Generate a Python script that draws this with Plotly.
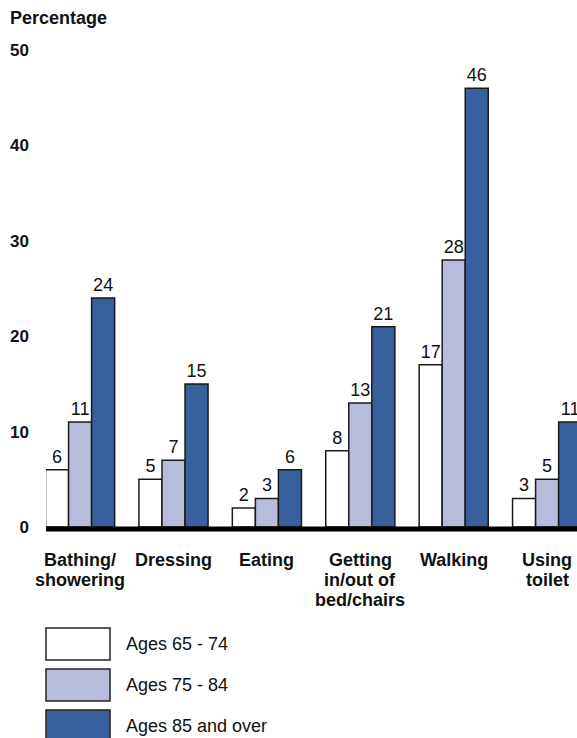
import plotly.graph_objects as go

# Share of older adults reporting difficulty, by activity and age group
activities = ["Bathing/<br>showering", "Dressing", "Eating",
              "Getting<br>in/out of<br>bed/chairs", "Walking", "Using<br>toilet"]
ages_65_74 = [6, 5, 2, 8, 17, 3]
ages_75_84 = [11, 7, 3, 13, 28, 5]
ages_85_up = [24, 15, 6, 21, 46, 11]
series_names = ["Ages 65 - 74", "Ages 75 - 84", "Ages 85 and over"]
y_ticks = [0, 10, 20, 30, 40, 50]

colors = ["#ffffff", "#b8bcdc", "#37609c"]
FONT = "Liberation Sans, Arial, sans-serif"

W, H = 577, 738
ML, MR, MT, MB = 46, 0, 50, 211
PW, PH = W - ML - MR, H - MT - MB


def px_x(x):
    return (x - ML) / PW


def px_y(y):
    return (H - MB - y) / PH


fig = go.Figure()
for name, vals, col in zip(series_names, [ages_65_74, ages_75_84, ages_85_up], colors):
    fig.add_trace(go.Bar(
        x=activities, y=vals, name=name,
        marker=dict(color=col, line=dict(color="#1a1a1a", width=1.5)),
        text=vals, textposition="outside", cliponaxis=False,
        textfont=dict(family=FONT, size=18, color="#111"),
        showlegend=False,
    ))

# Heavy baseline under the bars
shapes = [dict(type="line", xref="paper", yref="paper", x0=0, x1=1,
               y0=px_y(529), y1=px_y(529), line=dict(color="black", width=5))]
annotations = [dict(text="<b>Percentage</b>", xref="paper", yref="paper",
                    x=px_x(8), y=px_y(18), xanchor="left", yanchor="middle",
                    showarrow=False, font=dict(family=FONT, size=18, color="#111"))]

# Category labels, one line at a time for tighter line spacing
for cat in activities:
    for i, line in enumerate(cat.split("<br>")):
        annotations.append(dict(text=f"<b>{line}</b>", xref="x", yref="paper",
                                x=cat, y=px_y(560 + 20 * i), xanchor="center",
                                yanchor="middle", showarrow=False,
                                font=dict(family=FONT, size=18, color="#111")))

# Custom legend with large swatches
box_tops = [628, 669, 710]
for name, col, top in zip(series_names, colors, box_tops):
    shapes.append(dict(type="rect", xref="paper", yref="paper",
                       x0=px_x(46), x1=px_x(110), y0=px_y(top + 32), y1=px_y(top),
                       fillcolor=col, line=dict(color="#222", width=1.5)))
    annotations.append(dict(text=name, xref="paper", yref="paper",
                            x=px_x(124), y=px_y(top + 16), xanchor="left",
                            yanchor="middle", showarrow=False,
                            font=dict(family=FONT, size=18, color="#111")))

fig.update_layout(
    width=W, height=H,
    margin=dict(l=ML, r=MR, t=MT, b=MB, pad=0),
    paper_bgcolor="white", plot_bgcolor="white",
    barmode="group", bargap=0.26, bargroupgap=0,
    font=dict(family=FONT, color="#111"),
    shapes=shapes, annotations=annotations,
    xaxis=dict(range=[-0.365, 5.32], showgrid=False, showline=False,
               ticks="", showticklabels=False),
    yaxis=dict(range=[0, 50], tickvals=y_ticks, showgrid=False, zeroline=False,
               showline=False, ticks="",
               tickfont=dict(family=FONT, size=17, weight="bold"),
               ticklabelstandoff=16),
)

fig.write_html("out.html")
